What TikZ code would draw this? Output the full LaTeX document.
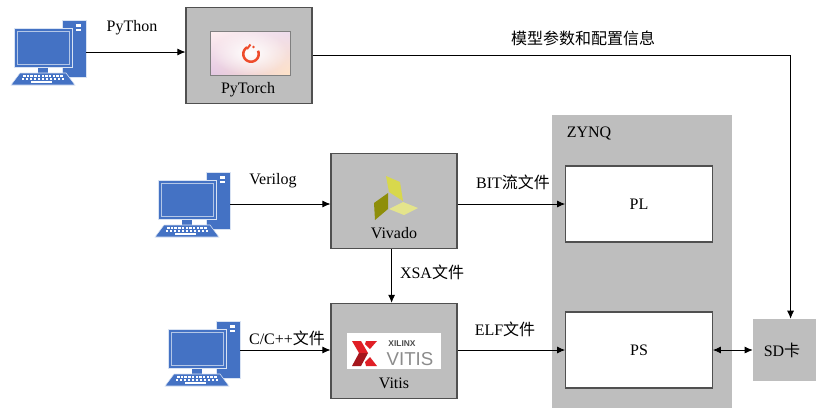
\documentclass[tikz,border=0pt]{standalone}
\usepackage{fontspec}
\setmainfont{Liberation Serif}
\setsansfont{Liberation Sans}
\newfontfamily\cjk{Noto Sans CJK SC}
\usetikzlibrary{fadings,shadings,arrows.meta}

\definecolor{boxgray}{HTML}{BEBEBE}
\definecolor{boxline}{HTML}{505050}
\definecolor{pcblue}{HTML}{4472C4}
\definecolor{pclight}{HTML}{B4C7E7}
\definecolor{torchred}{HTML}{EE4C2C}
\definecolor{vivadotop}{HTML}{D8D84C}
\definecolor{vivadodark}{HTML}{8E8E0A}
\definecolor{vivadolight}{HTML}{E4E48C}
\definecolor{xilinxred}{HTML}{E01F26}
\definecolor{xilinxdark}{HTML}{A5161C}

\tikzfading[name=softglow, inner color=transparent!0, outer color=transparent!100]

\tikzset{
	>={Latex[length=6pt,width=5.2pt]},
	lbl/.style={inner sep=0pt, font=\fontsize{12pt}{14pt}\selectfont},
	grayblock/.style={fill=boxgray, inner sep=0pt},
	toolbox/.style={grayblock, draw=boxline, line width=0.8pt, minimum width=94.5pt, minimum height=71.5pt},
	whitebox/.style={fill=white, draw=boxline, line width=0.8pt, inner sep=0pt, minimum width=110pt, minimum height=57pt},
	flow/.style={->, line width=0.6pt},
	pics/computer/.style={code={
		% tower
		\draw[fill=pcblue, draw=pclight!50, line width=0.4pt] (48,-8) rectangle (72,49);
		\fill[white] (62,-4) rectangle (67,-1);
		\fill[white] (62,1) rectangle (67,3);
		% stand
		\fill[pcblue] (24,38) rectangle (34,46);
		% monitor
		\draw[fill=pcblue, draw=pclight!50, line width=0.4pt] (0,0) rectangle (58,39);
		\draw[draw=pclight, line width=0.6pt] (3,3) rectangle (55,36);
		% keyboard
		\draw[fill=pcblue, draw=pclight!50, line width=0.4pt] (6,45) -- (52,45) -- (61,57) -- (-3,57) -- cycle;
		\foreach \k in {0,...,10} {
			\fill[white] (9+3.7*\k,47.3) rectangle ++(2.5,1.5);
			\fill[white] (7.5+4*\k,50) rectangle ++(2.7,1.5);
		}
		\fill[white] (17,53) rectangle (38,54.5);
		\coordinate (-port) at (72,24);
	}}
}

\begin{document}
\begin{tikzpicture}[x=0.75pt, y=-0.75pt]
	\useasboundingbox (0,0) rectangle (816,408);

	% gray blocks
	\node[toolbox] (torch) at (249,55.5) {};
	\node[toolbox] (vivado) at (394,201) {};
	\node[toolbox] (vitis) at (394,351) {};
	\node[grayblock, minimum width=135pt, minimum height=219.75pt] (zynq) at (642,261.5) {};
	\node[grayblock, minimum width=47.25pt, minimum height=46.5pt] (sd) at (784.5,350) {};
	\node[whitebox] (pl) at (639,204) {};
	\node[whitebox] (ps) at (639,350) {};

	% computers
	\pic (pcA) at (14,28) {computer};
	\pic (pcB) at (158,180) {computer};
	\pic (pcC) at (168,329) {computer};

	% pytorch logo
	\shade[upper left=red!6, upper right=violet!14, lower left=violet!22, lower right=orange!22] (210,31) rectangle (290,75);
	\fill[white, path fading=softglow] (250,53) ellipse (38 and 22);
	\draw[gray, line width=0.5pt] (210,31) rectangle (290,75);
	\draw[torchred, line width=1.9pt, domain=-240:25, samples=40] plot ({251+7.7*cos(\x)},{54-7.7*sin(\x)});
	\draw[torchred, line width=1.5pt] (247,49) -- (250.5,44.5);
	\fill[torchred] (253.5,47) circle (1.3);

	% vivado logo
	\fill[vivadotop] (386,176) -- (400,182) -- (403,201) -- (389,192) -- cycle;
	\fill[vivadodark] (388,193) -- (374,203) -- (375,220) -- (388,209) -- cycle;
	\fill[vivadolight] (403,202) -- (418,208) -- (404,215) -- (389,209) -- cycle;

	% vitis logo
	\fill[white] (347,333) rectangle (441,369);
	\fill[xilinxred] (352,341) -- (361,341) -- (368,353) -- (359,353) -- cycle;
	\fill[xilinxdark] (359,353) -- (368,353) -- (361,366) -- (352,366) -- cycle;
	\fill[xilinxred] (366,341) -- (377,341) -- (370,349) -- (365,344) -- cycle;
	\fill[xilinxred] (370,357) -- (377,366) -- (366,366) -- (365,362) -- cycle;
	\node[inner sep=0pt, text=black!70, font=\sffamily\bfseries\fontsize{6.3pt}{7pt}\selectfont] (xilinx) at (402,344) {XILINX};
	\node[inner sep=0pt, text=black!45, font=\sffamily\fontsize{14pt}{15pt}\selectfont] (vitislogo) at (410,359) {VITIS};

	% labels in the blocks
	\node[lbl] (torchname) at (248,90) {PyTorch};
	\node[lbl] (vivadoname) at (394,233) {Vivado};
	\node[lbl] (vitisname) at (394,383) {Vitis};
	\node[lbl] (zynqname) at (589,133) {ZYNQ};
	\node[lbl] (plname) at (639,204) {PL};
	\node[lbl] (psname) at (639,350) {PS};
	\node[lbl] (sdname) at (782,350) {SD{\cjk 卡}};

	% connectors
	\draw[flow] (pcA-port) -- (pcA-port -| torch.west);
	\draw[flow] (pcB-port) -- (pcB-port -| vivado.west);
	\draw[flow] (pcC-port |- ps.west) -- (vitis.west |- ps.west);
	\draw[flow] (torch.east) -| (sd.79);
	\draw[flow] (vivado.east |- pl.west) -- (pl.west);
	\draw[flow] (vitis.east |- ps.west) -- (ps.west);
	\draw[flow] ([xshift=-1.8pt]vivado.south) -- ([xshift=-1.8pt]vitis.north);
	\draw[<->, line width=0.6pt] (ps.east) -- (sd.west |- ps.east);

	% labels on the connectors
	\node[lbl] (python) at (132,28) {PyThon};
	\node[lbl] (verilog) at (273,181) {Verilog};
	\node[lbl] (ccpp) at (287,338) {C/C++{\cjk 文件}};
	\node[lbl] (params) at (583,38) {\cjk 模型参数和配置信息};
	\node[lbl] (bit) at (513,182) {BIT{\cjk 流文件}};
	\node[lbl] (elf) at (505,329) {ELF{\cjk 文件}};
	\node[lbl] (xsa) at (432,272) {XSA{\cjk 文件}};
\end{tikzpicture}
\end{document}
